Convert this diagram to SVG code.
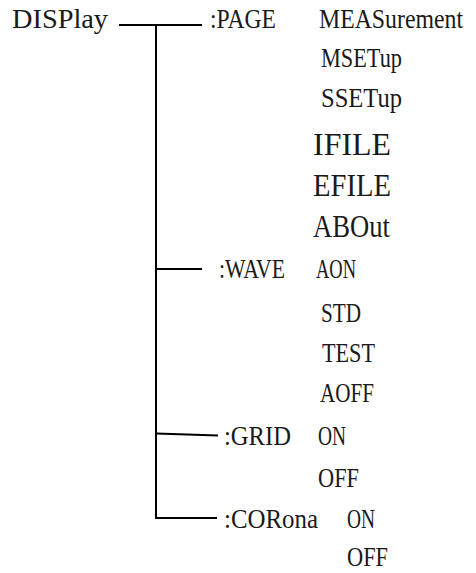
<svg xmlns="http://www.w3.org/2000/svg" width="476" height="573" viewBox="0 0 476 573">
  <style>
    .t { font-family: "Liberation Serif", "Times New Roman", serif; font-size: 28px; fill: #1a1a1a; }
    .big { font-size: 31px; }
    .ln { stroke: #000; stroke-width: 2; fill: none; stroke-linecap: butt; }
  </style>
  <!-- Labels are fitted to fixed cells (13.9px per character, 16px for the larger ones) -->
  <g id="connectors">
    <line class="ln" x1="119" y1="25" x2="202" y2="25"/>
    <line class="ln" x1="156" y1="24" x2="156" y2="519"/>
    <line class="ln" x1="156" y1="269" x2="202" y2="269"/>
    <line class="ln" x1="156" y1="433.5" x2="218" y2="435.5"/>
    <line class="ln" x1="156" y1="518" x2="217" y2="518"/>
  </g>
  <g id="display">
    <text class="t" x="12" y="28" textLength="96" lengthAdjust="spacingAndGlyphs">DISPlay</text>
  </g>
  <g id="page">
    <text class="t" x="210" y="28" textLength="66" lengthAdjust="spacingAndGlyphs">:PAGE</text>
    <text class="t" x="319" y="28" font-size="25" textLength="144" lengthAdjust="spacingAndGlyphs">MEASurement</text>
    <text class="t" x="321" y="67" textLength="81" lengthAdjust="spacingAndGlyphs">MSETup</text>
    <text class="t" x="321" y="107" textLength="81" lengthAdjust="spacingAndGlyphs">SSETup</text>
    <text class="t big" x="313" y="155" textLength="78" lengthAdjust="spacingAndGlyphs">IFILE</text>
    <text class="t big" x="313" y="196" textLength="78" lengthAdjust="spacingAndGlyphs">EFILE</text>
    <text class="t big" x="313" y="237" textLength="77" lengthAdjust="spacingAndGlyphs">ABOut</text>
  </g>
  <g id="wave">
    <text class="t" x="219" y="278" textLength="66" lengthAdjust="spacingAndGlyphs">:WAVE</text>
    <text class="t" x="316" y="278" textLength="40" lengthAdjust="spacingAndGlyphs">AON</text>
    <text class="t" x="321" y="322" textLength="40" lengthAdjust="spacingAndGlyphs">STD</text>
    <text class="t" x="322" y="362" textLength="53" lengthAdjust="spacingAndGlyphs">TEST</text>
    <text class="t" x="320" y="402" textLength="54" lengthAdjust="spacingAndGlyphs">AOFF</text>
  </g>
  <g id="grid">
    <text class="t" x="224" y="445" textLength="67" lengthAdjust="spacingAndGlyphs">:GRID</text>
    <text class="t" x="318" y="445" textLength="28" lengthAdjust="spacingAndGlyphs">ON</text>
    <text class="t" x="318" y="487" textLength="41" lengthAdjust="spacingAndGlyphs">OFF</text>
  </g>
  <g id="corona">
    <text class="t" x="224" y="528" textLength="94" lengthAdjust="spacingAndGlyphs">:CORona</text>
    <text class="t" x="347" y="528" textLength="28" lengthAdjust="spacingAndGlyphs">ON</text>
    <text class="t" x="347" y="566" textLength="41" lengthAdjust="spacingAndGlyphs">OFF</text>
  </g>
</svg>
